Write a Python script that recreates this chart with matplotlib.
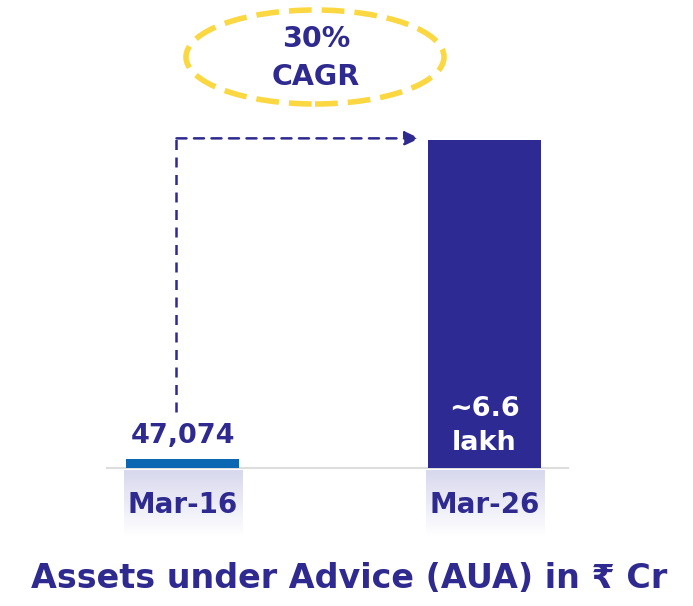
import numpy as np
import matplotlib
matplotlib.use("Agg")
import matplotlib.pyplot as plt
from matplotlib.patches import Ellipse
import matplotlib.transforms as mtransforms
from matplotlib.colors import LinearSegmentedColormap

categories = ["Mar-16", "Mar-26"]
values = [47074, 660000]
value_labels = ["47,074", "~6.6\nlakh"]
cagr_text = "30%\nCAGR"
title = "Assets under Advice (AUA) in \u20b9 Cr"

NAVY = "#2e2a8f"
BLUE = "#0b67b2"
BAR2 = "#2e2a94"
YELLOW = "#fbd842"
FONT = ["DejaVu Sans"]

W, H = 693, 606
fig = plt.figure(figsize=(W / 100, H / 100), dpi=100)
ax = fig.add_axes([107 / W, (H - 468) / H, (568 - 107) / W, (468 - 140) / H])

p = 1.36
ax.set_yscale("function", functions=(lambda y: np.sign(y) * np.abs(y) ** p,
                                     lambda y: np.sign(y) * np.abs(y) ** (1 / p)))
x = np.arange(len(categories))
ax.bar(x, values, width=0.374, color=[BLUE, BAR2], zorder=3)
ax.set_xlim(-0.25, 1.276)
ax.set_ylim(0, values[1])
for s in ["top", "right", "left"]:
    ax.spines[s].set_visible(False)
ax.spines["bottom"].set_color("#dddddd")
ax.spines["bottom"].set_linewidth(1.5)
ax.set_yticks([])
ax.set_xticks([])

# gradient backgrounds under category labels
grad = np.linspace(0, 1, 100).reshape(-1, 1)
cmap = LinearSegmentedColormap.from_list("g", ["#d8d8ee", "#ffffff"])
for xi, cat in zip(x, categories):
    xc_px = 107 + (xi + 0.25) / 1.526 * 461
    gax = fig.add_axes([(xc_px - 59) / W, (H - 536) / H, 118 / W, 66 / H])
    gax.imshow(grad, aspect="auto", cmap=cmap, extent=[0, 1, 0, 1], origin="upper")
    gax.axis("off")
    gax.set_zorder(-1)
    fig.text(xc_px / W, 1 - 505 / H, cat, ha="center", va="center",
             fontsize=20, fontweight="bold", color=NAVY, family=FONT)

# value labels
ax.annotate(value_labels[0], xy=(x[0], values[0]), xytext=(0, 7), textcoords="offset points",
            ha="center", va="bottom", fontsize=19.5, fontweight="bold", color=NAVY, family=FONT)
ax.annotate(value_labels[1], xy=(x[1], 0), xytext=(0, 9), textcoords="offset points",
            ha="center", va="bottom", fontsize=19.5, fontweight="bold", color="white",
            family=FONT, linespacing=1.35)

# dashed arrow
trans = mtransforms.blended_transform_factory(ax.transData, ax.transAxes)
xa = -0.02
ax.plot([xa, xa], [0.17, 1.005], transform=trans, ls=(0, (4, 3)), color=NAVY,
        lw=1.8, clip_on=False)
ax.annotate("", xy=(0.785, 1.005), xytext=(xa, 1.005), xycoords=trans, textcoords=trans,
            arrowprops=dict(arrowstyle="-|>,head_length=0.9,head_width=0.42", color=NAVY,
                            lw=1.8, ls=(0, (4, 3)), shrinkA=0, shrinkB=0),
            annotation_clip=False)

# CAGR ellipse
e = Ellipse((315 / W, 1 - 57 / H), 258 / W, 94 / H, transform=fig.transFigure,
            fill=False, edgecolor=YELLOW, lw=4.0, ls=(0, (4.1, 1.8)), capstyle="butt")
fig.add_artist(e)
fig.text(316 / W, 1 - 58 / H, cagr_text, ha="center", va="center", fontsize=20.5,
         fontweight="bold", color=NAVY, family=FONT, linespacing=1.45)

fig.text(349 / W, 1 - 578 / H, title, ha="center", va="center", fontsize=24,
         fontweight="bold", color=NAVY, family=FONT)

fig.savefig("out.png", dpi=100)
